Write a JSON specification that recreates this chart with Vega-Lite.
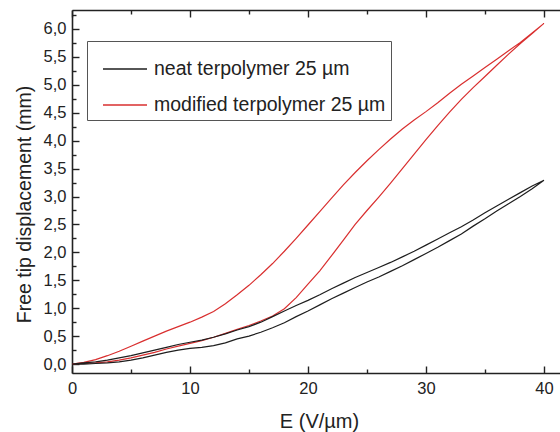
{
  "$schema": "https://vega.github.io/schema/vega-lite/v6.json",
  "width": 488,
  "height": 363,
  "autosize": {"type": "none"},
  "padding": {"left": 72, "top": 10, "right": 0, "bottom": 59},
  "background": "white",
  "config": {
    "view": {"stroke": null},
    "font": "Liberation Sans",
    "axis": {
      "labelFont": "Liberation Sans",
      "titleFont": "Liberation Sans",
      "labelColor": "#222",
      "titleColor": "#222",
      "domainColor": "#222",
      "tickColor": "#222",
      "domainWidth": 1.6,
      "tickWidth": 1.4,
      "grid": false,
      "titleFontWeight": "normal",
      "labelFontSize": 16.5,
      "titleFontSize": 20
    }
  },
  "data": {
    "values": [
      {"s":"modified terpolymer 25 µm","o":0,"E":0,"D":0.00},
      {"s":"modified terpolymer 25 µm","o":1,"E":1,"D":0.01},
      {"s":"modified terpolymer 25 µm","o":2,"E":2,"D":0.02},
      {"s":"modified terpolymer 25 µm","o":3,"E":3,"D":0.04},
      {"s":"modified terpolymer 25 µm","o":4,"E":4,"D":0.07},
      {"s":"modified terpolymer 25 µm","o":5,"E":5,"D":0.11},
      {"s":"modified terpolymer 25 µm","o":6,"E":6,"D":0.16},
      {"s":"modified terpolymer 25 µm","o":7,"E":7,"D":0.21},
      {"s":"modified terpolymer 25 µm","o":8,"E":8,"D":0.27},
      {"s":"modified terpolymer 25 µm","o":9,"E":9,"D":0.32},
      {"s":"modified terpolymer 25 µm","o":10,"E":10,"D":0.37},
      {"s":"modified terpolymer 25 µm","o":11,"E":11,"D":0.42},
      {"s":"modified terpolymer 25 µm","o":12,"E":12,"D":0.48},
      {"s":"modified terpolymer 25 µm","o":13,"E":13,"D":0.55},
      {"s":"modified terpolymer 25 µm","o":14,"E":14,"D":0.62},
      {"s":"modified terpolymer 25 µm","o":15,"E":15,"D":0.69},
      {"s":"modified terpolymer 25 µm","o":16,"E":16,"D":0.77},
      {"s":"modified terpolymer 25 µm","o":17,"E":17,"D":0.86},
      {"s":"modified terpolymer 25 µm","o":18,"E":18,"D":0.99},
      {"s":"modified terpolymer 25 µm","o":19,"E":19,"D":1.19},
      {"s":"modified terpolymer 25 µm","o":20,"E":20,"D":1.43},
      {"s":"modified terpolymer 25 µm","o":21,"E":21,"D":1.67},
      {"s":"modified terpolymer 25 µm","o":22,"E":22,"D":1.94},
      {"s":"modified terpolymer 25 µm","o":23,"E":23,"D":2.22},
      {"s":"modified terpolymer 25 µm","o":24,"E":24,"D":2.50},
      {"s":"modified terpolymer 25 µm","o":25,"E":25,"D":2.75},
      {"s":"modified terpolymer 25 µm","o":26,"E":26,"D":2.99},
      {"s":"modified terpolymer 25 µm","o":27,"E":27,"D":3.24},
      {"s":"modified terpolymer 25 µm","o":28,"E":28,"D":3.50},
      {"s":"modified terpolymer 25 µm","o":29,"E":29,"D":3.76},
      {"s":"modified terpolymer 25 µm","o":30,"E":30,"D":4.02},
      {"s":"modified terpolymer 25 µm","o":31,"E":31,"D":4.27},
      {"s":"modified terpolymer 25 µm","o":32,"E":32,"D":4.51},
      {"s":"modified terpolymer 25 µm","o":33,"E":33,"D":4.74},
      {"s":"modified terpolymer 25 µm","o":34,"E":34,"D":4.95},
      {"s":"modified terpolymer 25 µm","o":35,"E":35,"D":5.15},
      {"s":"modified terpolymer 25 µm","o":36,"E":36,"D":5.35},
      {"s":"modified terpolymer 25 µm","o":37,"E":37,"D":5.55},
      {"s":"modified terpolymer 25 µm","o":38,"E":38,"D":5.74},
      {"s":"modified terpolymer 25 µm","o":39,"E":39,"D":5.92},
      {"s":"modified terpolymer 25 µm","o":40,"E":40,"D":6.10},
      {"s":"modified terpolymer 25 µm","o":41,"E":39,"D":5.93},
      {"s":"modified terpolymer 25 µm","o":42,"E":38,"D":5.76},
      {"s":"modified terpolymer 25 µm","o":43,"E":37,"D":5.61},
      {"s":"modified terpolymer 25 µm","o":44,"E":36,"D":5.46},
      {"s":"modified terpolymer 25 µm","o":45,"E":35,"D":5.31},
      {"s":"modified terpolymer 25 µm","o":46,"E":34,"D":5.16},
      {"s":"modified terpolymer 25 µm","o":47,"E":33,"D":5.01},
      {"s":"modified terpolymer 25 µm","o":48,"E":32,"D":4.85},
      {"s":"modified terpolymer 25 µm","o":49,"E":31,"D":4.68},
      {"s":"modified terpolymer 25 µm","o":50,"E":30,"D":4.52},
      {"s":"modified terpolymer 25 µm","o":51,"E":29,"D":4.37},
      {"s":"modified terpolymer 25 µm","o":52,"E":28,"D":4.21},
      {"s":"modified terpolymer 25 µm","o":53,"E":27,"D":4.03},
      {"s":"modified terpolymer 25 µm","o":54,"E":26,"D":3.84},
      {"s":"modified terpolymer 25 µm","o":55,"E":25,"D":3.64},
      {"s":"modified terpolymer 25 µm","o":56,"E":24,"D":3.43},
      {"s":"modified terpolymer 25 µm","o":57,"E":23,"D":3.21},
      {"s":"modified terpolymer 25 µm","o":58,"E":22,"D":2.97},
      {"s":"modified terpolymer 25 µm","o":59,"E":21,"D":2.73},
      {"s":"modified terpolymer 25 µm","o":60,"E":20,"D":2.49},
      {"s":"modified terpolymer 25 µm","o":61,"E":19,"D":2.25},
      {"s":"modified terpolymer 25 µm","o":62,"E":18,"D":2.02},
      {"s":"modified terpolymer 25 µm","o":63,"E":17,"D":1.80},
      {"s":"modified terpolymer 25 µm","o":64,"E":16,"D":1.60},
      {"s":"modified terpolymer 25 µm","o":65,"E":15,"D":1.41},
      {"s":"modified terpolymer 25 µm","o":66,"E":14,"D":1.24},
      {"s":"modified terpolymer 25 µm","o":67,"E":13,"D":1.08},
      {"s":"modified terpolymer 25 µm","o":68,"E":12,"D":0.94},
      {"s":"modified terpolymer 25 µm","o":69,"E":11,"D":0.84},
      {"s":"modified terpolymer 25 µm","o":70,"E":10,"D":0.75},
      {"s":"modified terpolymer 25 µm","o":71,"E":9,"D":0.67},
      {"s":"modified terpolymer 25 µm","o":72,"E":8,"D":0.59},
      {"s":"modified terpolymer 25 µm","o":73,"E":7,"D":0.50},
      {"s":"modified terpolymer 25 µm","o":74,"E":6,"D":0.41},
      {"s":"modified terpolymer 25 µm","o":75,"E":5,"D":0.32},
      {"s":"modified terpolymer 25 µm","o":76,"E":4,"D":0.23},
      {"s":"modified terpolymer 25 µm","o":77,"E":3,"D":0.15},
      {"s":"modified terpolymer 25 µm","o":78,"E":2,"D":0.08},
      {"s":"modified terpolymer 25 µm","o":79,"E":1,"D":0.03},
      {"s":"modified terpolymer 25 µm","o":80,"E":0,"D":0.00},
      {"s":"neat terpolymer 25 µm","o":0,"E":0,"D":0.00},
      {"s":"neat terpolymer 25 µm","o":1,"E":1,"D":0.00},
      {"s":"neat terpolymer 25 µm","o":2,"E":2,"D":0.01},
      {"s":"neat terpolymer 25 µm","o":3,"E":3,"D":0.02},
      {"s":"neat terpolymer 25 µm","o":4,"E":4,"D":0.04},
      {"s":"neat terpolymer 25 µm","o":5,"E":5,"D":0.07},
      {"s":"neat terpolymer 25 µm","o":6,"E":6,"D":0.11},
      {"s":"neat terpolymer 25 µm","o":7,"E":7,"D":0.16},
      {"s":"neat terpolymer 25 µm","o":8,"E":8,"D":0.21},
      {"s":"neat terpolymer 25 µm","o":9,"E":9,"D":0.25},
      {"s":"neat terpolymer 25 µm","o":10,"E":10,"D":0.28},
      {"s":"neat terpolymer 25 µm","o":11,"E":11,"D":0.30},
      {"s":"neat terpolymer 25 µm","o":12,"E":12,"D":0.33},
      {"s":"neat terpolymer 25 µm","o":13,"E":13,"D":0.38},
      {"s":"neat terpolymer 25 µm","o":14,"E":14,"D":0.45},
      {"s":"neat terpolymer 25 µm","o":15,"E":15,"D":0.50},
      {"s":"neat terpolymer 25 µm","o":16,"E":16,"D":0.57},
      {"s":"neat terpolymer 25 µm","o":17,"E":17,"D":0.65},
      {"s":"neat terpolymer 25 µm","o":18,"E":18,"D":0.74},
      {"s":"neat terpolymer 25 µm","o":19,"E":19,"D":0.85},
      {"s":"neat terpolymer 25 µm","o":20,"E":20,"D":0.95},
      {"s":"neat terpolymer 25 µm","o":21,"E":21,"D":1.06},
      {"s":"neat terpolymer 25 µm","o":22,"E":22,"D":1.17},
      {"s":"neat terpolymer 25 µm","o":23,"E":23,"D":1.27},
      {"s":"neat terpolymer 25 µm","o":24,"E":24,"D":1.37},
      {"s":"neat terpolymer 25 µm","o":25,"E":25,"D":1.47},
      {"s":"neat terpolymer 25 µm","o":26,"E":26,"D":1.56},
      {"s":"neat terpolymer 25 µm","o":27,"E":27,"D":1.66},
      {"s":"neat terpolymer 25 µm","o":28,"E":28,"D":1.76},
      {"s":"neat terpolymer 25 µm","o":29,"E":29,"D":1.87},
      {"s":"neat terpolymer 25 µm","o":30,"E":30,"D":1.98},
      {"s":"neat terpolymer 25 µm","o":31,"E":31,"D":2.09},
      {"s":"neat terpolymer 25 µm","o":32,"E":32,"D":2.21},
      {"s":"neat terpolymer 25 µm","o":33,"E":33,"D":2.33},
      {"s":"neat terpolymer 25 µm","o":34,"E":34,"D":2.47},
      {"s":"neat terpolymer 25 µm","o":35,"E":35,"D":2.60},
      {"s":"neat terpolymer 25 µm","o":36,"E":36,"D":2.74},
      {"s":"neat terpolymer 25 µm","o":37,"E":37,"D":2.87},
      {"s":"neat terpolymer 25 µm","o":38,"E":38,"D":3.00},
      {"s":"neat terpolymer 25 µm","o":39,"E":39,"D":3.14},
      {"s":"neat terpolymer 25 µm","o":40,"E":40,"D":3.29},
      {"s":"neat terpolymer 25 µm","o":41,"E":39,"D":3.19},
      {"s":"neat terpolymer 25 µm","o":42,"E":38,"D":3.07},
      {"s":"neat terpolymer 25 µm","o":43,"E":37,"D":2.95},
      {"s":"neat terpolymer 25 µm","o":44,"E":36,"D":2.83},
      {"s":"neat terpolymer 25 µm","o":45,"E":35,"D":2.71},
      {"s":"neat terpolymer 25 µm","o":46,"E":34,"D":2.58},
      {"s":"neat terpolymer 25 µm","o":47,"E":33,"D":2.46},
      {"s":"neat terpolymer 25 µm","o":48,"E":32,"D":2.35},
      {"s":"neat terpolymer 25 µm","o":49,"E":31,"D":2.24},
      {"s":"neat terpolymer 25 µm","o":50,"E":30,"D":2.13},
      {"s":"neat terpolymer 25 µm","o":51,"E":29,"D":2.02},
      {"s":"neat terpolymer 25 µm","o":52,"E":28,"D":1.92},
      {"s":"neat terpolymer 25 µm","o":53,"E":27,"D":1.82},
      {"s":"neat terpolymer 25 µm","o":54,"E":26,"D":1.73},
      {"s":"neat terpolymer 25 µm","o":55,"E":25,"D":1.64},
      {"s":"neat terpolymer 25 µm","o":56,"E":24,"D":1.55},
      {"s":"neat terpolymer 25 µm","o":57,"E":23,"D":1.45},
      {"s":"neat terpolymer 25 µm","o":58,"E":22,"D":1.35},
      {"s":"neat terpolymer 25 µm","o":59,"E":21,"D":1.24},
      {"s":"neat terpolymer 25 µm","o":60,"E":20,"D":1.14},
      {"s":"neat terpolymer 25 µm","o":61,"E":19,"D":1.05},
      {"s":"neat terpolymer 25 µm","o":62,"E":18,"D":0.95},
      {"s":"neat terpolymer 25 µm","o":63,"E":17,"D":0.85},
      {"s":"neat terpolymer 25 µm","o":64,"E":16,"D":0.75},
      {"s":"neat terpolymer 25 µm","o":65,"E":15,"D":0.67},
      {"s":"neat terpolymer 25 µm","o":66,"E":14,"D":0.61},
      {"s":"neat terpolymer 25 µm","o":67,"E":13,"D":0.54},
      {"s":"neat terpolymer 25 µm","o":68,"E":12,"D":0.48},
      {"s":"neat terpolymer 25 µm","o":69,"E":11,"D":0.43},
      {"s":"neat terpolymer 25 µm","o":70,"E":10,"D":0.39},
      {"s":"neat terpolymer 25 µm","o":71,"E":9,"D":0.35},
      {"s":"neat terpolymer 25 µm","o":72,"E":8,"D":0.30},
      {"s":"neat terpolymer 25 µm","o":73,"E":7,"D":0.25},
      {"s":"neat terpolymer 25 µm","o":74,"E":6,"D":0.20},
      {"s":"neat terpolymer 25 µm","o":75,"E":5,"D":0.15},
      {"s":"neat terpolymer 25 µm","o":76,"E":4,"D":0.11},
      {"s":"neat terpolymer 25 µm","o":77,"E":3,"D":0.07},
      {"s":"neat terpolymer 25 µm","o":78,"E":2,"D":0.04},
      {"s":"neat terpolymer 25 µm","o":79,"E":1,"D":0.02},
      {"s":"neat terpolymer 25 µm","o":80,"E":0,"D":0.00}
    ]
  },
  "resolve": {"axis": {"x": "independent"}},
  "layer": [
    {
      "mark": {"type": "line", "strokeWidth": 1.2, "clip": false},
      "encoding": {
        "x": {
          "field": "E", "type": "quantitative",
          "scale": {"domain": [0, 41.36], "nice": false, "zero": false},
          "axis": {
            "orient": "bottom",
            "title": "E (V/µm)",
            "values": [0, 5, 10, 15, 20, 25, 30, 35, 40],
            "labelExpr": "datum.value % 10 == 0 ? format(datum.value, 'd') : ''",
            "tickSize": {"condition": {"test": "datum.value % 10 == 0", "value": -7}, "value": -4},
            "labelPadding": 14,
            "labelFlush": false,
            "titleX": 247,
            "titleY": 54,
            "titleBaseline": "alphabetic",
            "titleAlign": "center"
          }
        },
        "y": {
          "field": "D", "type": "quantitative",
          "scale": {"domain": [-0.16, 6.34], "nice": false, "zero": false},
          "axis": {
            "title": "Free tip displacement (mm)",
            "values": [0, 0.25, 0.5, 0.75, 1, 1.25, 1.5, 1.75, 2, 2.25, 2.5, 2.75, 3, 3.25, 3.5, 3.75, 4, 4.25, 4.5, 4.75, 5, 5.25, 5.5, 5.75, 6, 6.25],
            "labelExpr": "abs(datum.value * 2 - round(datum.value * 2)) < 0.001 ? replace(format(datum.value, '.1f'), '.', ',') : ''",
            "tickSize": {"condition": {"test": "abs(datum.value * 2 - round(datum.value * 2)) < 0.001", "value": -7}, "value": -4},
            "labelPadding": 13,
            "labelFlush": false,
            "titleX": -42,
            "titleY": 194,
            "titleFontSize": 19.5,
            "titleAlign": "center",
            "titleBaseline": "alphabetic",
            "titleAngle": -90
          }
        },
        "color": {
          "field": "s", "type": "nominal",
          "scale": {"domain": ["neat terpolymer 25 µm", "modified terpolymer 25 µm"], "range": ["#1e1e1e", "#d92f2f"]},
          "legend": {
            "title": null,
            "orient": "none",
            "legendX": 15,
            "legendY": 31,
            "strokeColor": "#555",
            "fillColor": "white",
            "padding": 5,
            "rowPadding": 3,
            "symbolType": "stroke",
            "symbolSize": 1936,
            "symbolStrokeWidth": 1.3,
            "symbolOffset": 10,
            "labelOffset": 6,
            "labelFont": "Liberation Sans",
            "labelFontSize": 19.5,
            "labelColor": "#222",
            "labelLimit": 400
          }
        },
        "order": {"field": "o", "type": "quantitative"}
      }
    },
    {
      "mark": {"type": "rule", "strokeOpacity": 0},
      "encoding": {
        "x": {
          "field": "E", "type": "quantitative",
          "axis": {
            "orient": "top",
            "title": null,
            "labels": false,
            "values": [0, 5, 10, 15, 20, 25, 30, 35, 40],
            "tickSize": {"condition": {"test": "datum.value % 10 == 0", "value": -7}, "value": -4}
          }
        }
      }
    }
  ]
}
